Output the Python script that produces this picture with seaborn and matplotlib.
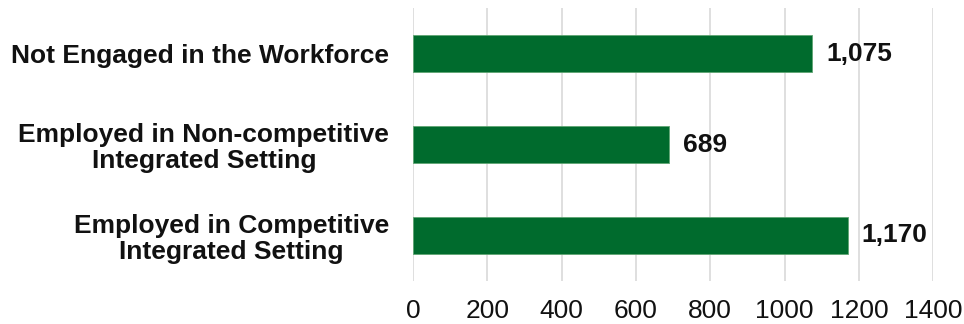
import matplotlib
matplotlib.use("Agg")
import matplotlib.pyplot as plt
import seaborn as sns
import pandas as pd

categories = [
    "Not Engaged in the Workforce",
    "Employed in Non-competitive\nIntegrated Setting",
    "Employed in Competitive\nIntegrated Setting",
]
counts = [1075, 689, 1170]
x_ticks = [0, 200, 400, 600, 800, 1000, 1200, 1400]

sns.set_theme(style="white")
plt.rcParams["font.family"] = ["Liberation Sans", "DejaVu Sans"]

df = pd.DataFrame({"category": categories, "count": counts})

fig = plt.figure(figsize=(9.64, 3.24), dpi=100)
ax = fig.add_axes([0.4284, 0.133, 0.5396, 0.842])

sns.barplot(data=df, x="count", y="category", color="#006B2D", saturation=1,
            width=0.4, edgecolor="#5fa573", linewidth=0.6, ax=ax)

ax.set_xlim(0, 1400)
ax.set_ylim(2.5, -0.5)
ax.set_xticks(x_ticks)
ax.set_xticklabels([str(t) for t in x_ticks])
ax.xaxis.grid(True, color="#d9d9d9", linewidth=1.2)
ax.set_axisbelow(True)
for s in ax.spines.values():
    s.set_visible(False)
ax.tick_params(axis="x", length=0, labelsize=19, pad=13, colors="#111111")
ax.tick_params(axis="y", length=0, pad=17)
for lab in ax.get_yticklabels():
    lab.set_fontweight("bold")
    lab.set_fontsize(19)
    lab.set_multialignment("center")
    lab.set_linespacing(1.1)
    lab.set_color("#111111")
ax.set_xlabel("")
ax.set_ylabel("")

for i, v in enumerate(counts):
    ax.text(v + 38, i, f"{v:,}", va="center", ha="left",
            fontsize=19, fontweight="bold", color="#111111")

fig.savefig("out.png", dpi=100)
